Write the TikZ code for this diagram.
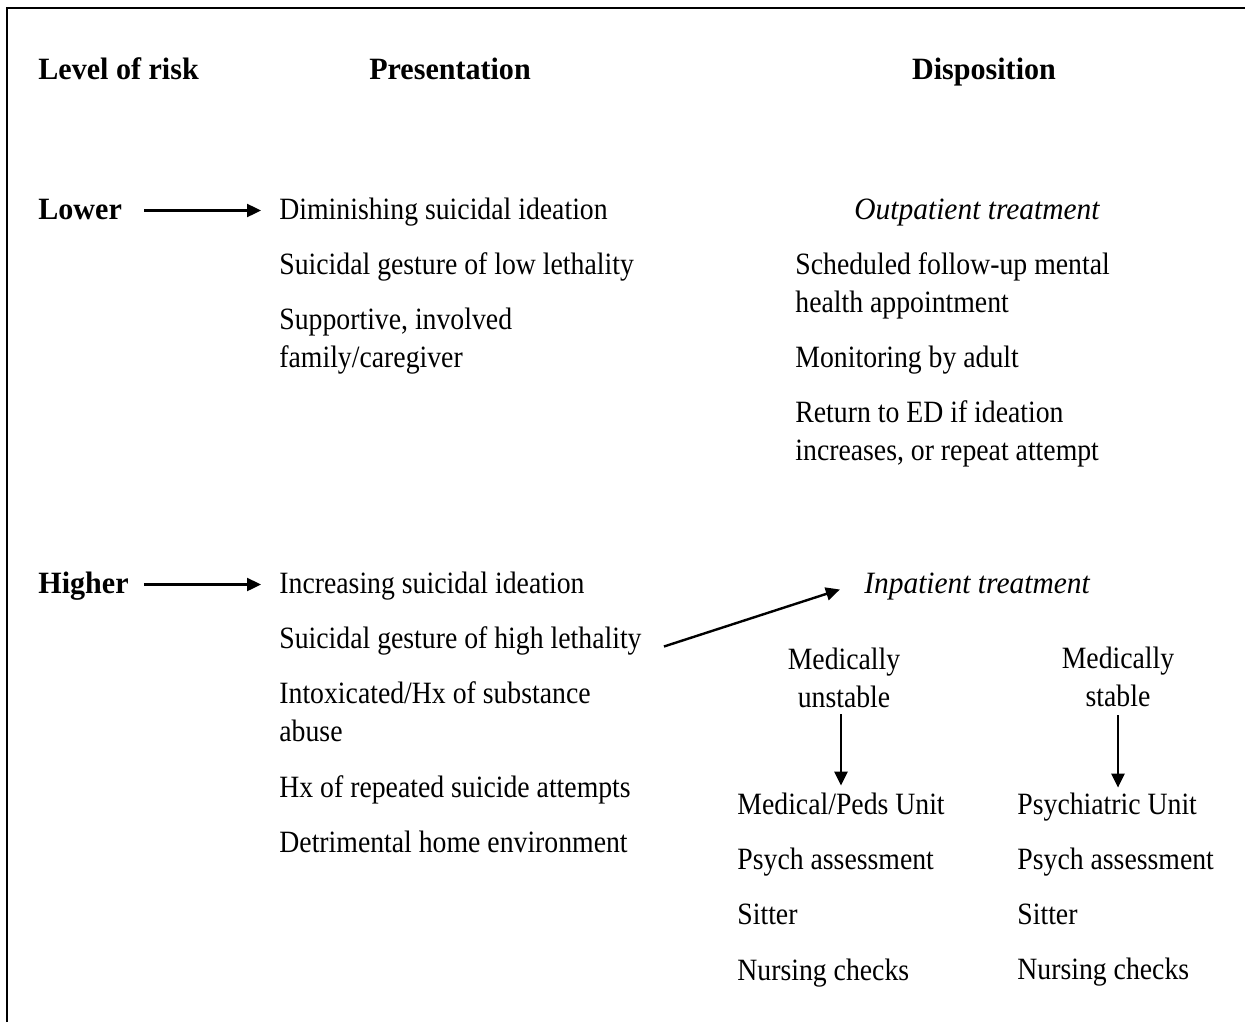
\documentclass[tikz,border=0pt]{standalone}
\usepackage{fontspec}
\setmainfont{Liberation Serif}[FakeStretch=0.895, BoldFeatures={FakeStretch=0.97}, ItalicFeatures={FakeStretch=0.95}]
\usetikzlibrary{arrows.meta}

\begin{document}
\begin{tikzpicture}[x=0.5pt, y=-0.5pt,
    every node/.style={inner sep=0pt, font=\fontsize{15.5}{19}\selectfont, text height=0.7em, text depth=0.15em},
    item/.style={anchor=base west},
    mid/.style={anchor=base},
    head/.style={font=\fontsize{15.5}{19}\selectfont\bfseries},
    arr/.style={-{Triangle[length=7pt,width=6.5pt]}, line width=1.2pt}]
    \useasboundingbox (0,0) rectangle (1245,1022);

    % Frame (left and top edge only)
    \draw[line width=1pt] (7,1022) -- (7,8) -- (1245,8);

    % Column heads
    \node[head, item] (hrisk) at (38,80) {Level of risk};
    \node[head, mid] (hpres) at (450,80) {Presentation};
    \node[head, mid] (hdisp) at (984,80) {Disposition};

    % Lower risk
    \node[head, item] (lower) at (38,219) {Lower};
    \node[item] (lp1) at (279,219) {Diminishing suicidal ideation};
    \node[item] (lp2) at (279,274) {Suicidal gesture of low lethality};
    \node[item] (lp3) at (279,329) {Supportive, involved};
    \node[item] (lp3b) at (279,367) {family/caregiver};
    \draw[arr, shorten <=11pt, shorten >=9pt] ([yshift=1.5pt]lower.east) -- ([yshift=1.5pt]lp1.west);

    \node[mid, font=\fontsize{15.5}{19}\selectfont\itshape] (outpat) at (977,219) {Outpatient treatment};
    \node[item] (ld1) at (795,274) {Scheduled follow-up mental};
    \node[item] (ld1b) at (795,312) {health appointment};
    \node[item] (ld2) at (795,367) {Monitoring by adult};
    \node[item] (ld3) at (795,422) {Return to ED if ideation};
    \node[item] (ld3b) at (795,460) {increases, or repeat attempt};

    % Higher risk
    \node[head, item] (higher) at (38,593) {Higher};
    \node[item] (hp1) at (279,593) {Increasing suicidal ideation};
    \node[item] (hp2) at (279,648) {Suicidal gesture of high lethality};
    \node[item] (hp3) at (279,703) {Intoxicated/Hx of substance};
    \node[item] (hp3b) at (279,741) {abuse};
    \node[item] (hp4) at (279,797) {Hx of repeated suicide attempts};
    \node[item] (hp5) at (279,852) {Detrimental home environment};
    \draw[arr, shorten <=7.5pt, shorten >=9pt] ([yshift=1.5pt]higher.east) -- ([yshift=1.5pt]hp1.west);

    \node[mid, font=\fontsize{15.5}{19}\selectfont\itshape] (inpat) at (977,593) {Inpatient treatment};
    \draw[arr] ([xshift=11pt,yshift=-2pt]hp2.east) -- ([xshift=-12pt,yshift=-1pt]inpat.west);

    % Medically unstable branch
    \node[mid] (unst1) at (844,669) {Medically};
    \node[mid] (unst2) at (844,707) {unstable};
    \node[item] (u1) at (737,814) {Medical/Peds Unit};
    \node[item] (u2) at (737,869) {Psych assessment};
    \node[item] (u3) at (737,924) {Sitter};
    \node[item] (u4) at (737,980) {Nursing checks};
    \draw[arr, shorten <=2pt, shorten >=7pt] ([xshift=-1.5pt]unst2.south) -- ([xshift=-1.5pt]unst2.south |- u1.north);

    % Medically stable branch
    \node[mid] (st1) at (1118,668) {Medically};
    \node[mid] (st2) at (1118,706) {stable};
    \node[item] (s1) at (1017,814) {Psychiatric Unit};
    \node[item] (s2) at (1017,869) {Psych assessment};
    \node[item] (s3) at (1017,924) {Sitter};
    \node[item] (s4) at (1017,979) {Nursing checks};
    \draw[arr, shorten <=3pt, shorten >=6pt] (st2.south) -- (st2.south |- s1.north);
\end{tikzpicture}
\end{document}
